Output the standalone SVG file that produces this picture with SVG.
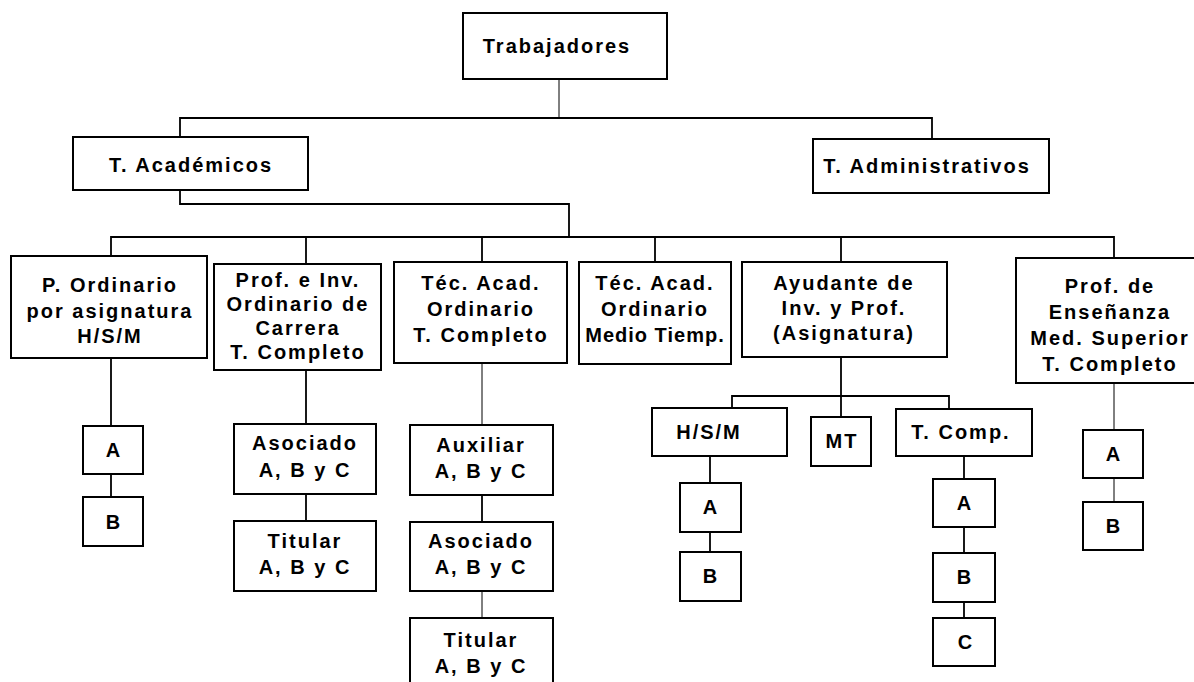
<svg xmlns="http://www.w3.org/2000/svg" width="1194" height="682" viewBox="0 0 1194 682">
<style>
  .box { fill: #fff; stroke: #000; stroke-width: 2; }
  .t { font-family: "Liberation Sans", Arial, sans-serif; font-weight: bold; font-size: 20px; letter-spacing: 2px; fill: #000; text-anchor: middle; }
  .c { fill: none; stroke: #000; stroke-width: 1.8; }
  .thin { stroke-width: 1; }
</style>
<rect width="1194" height="682" fill="#fff"/>
<g id="connectors">
  <path class="c thin" d="M559 79 V118"/>
  <path class="c" d="M180 137 V118 H932 V139"/>
  <path class="c" d="M180 190 V204 H569 V237"/>
  <path class="c" d="M111 256 V237 H1114 V258"/>
  <path class="c" d="M306 237 V264"/>
  <path class="c" d="M482 237 V262"/>
  <path class="c" d="M655 237 V262"/>
  <path class="c" d="M841 237 V262"/>
  <path class="c" d="M111 358 V426"/>
  <path class="c" d="M111 474 V497"/>
  <path class="c" d="M306 370 V424"/>
  <path class="c" d="M306 494 V521"/>
  <path class="c thin" d="M482 363 V425"/>
  <path class="c" d="M482 495 V522"/>
  <path class="c thin" d="M482 591 V618"/>
  <path class="c" d="M841 357 V417"/>
  <path class="c" d="M732 408 V396 H949 V409"/>
  <path class="c" d="M710 456 V483"/>
  <path class="c" d="M710 532 V552"/>
  <path class="c" d="M964 456 V479"/>
  <path class="c" d="M964 527 V553"/>
  <path class="c" d="M964 602 V618"/>
  <path class="c thin" d="M1114 383 V430"/>
  <path class="c thin" d="M1114 478 V502"/>
</g>
<g id="trabajadores">
  <rect class="box" x="463" y="13" width="204" height="66"/>
  <text class="t" x="557" y="53">Trabajadores</text>
</g>
<g id="t-academicos">
  <rect class="box" x="73" y="137" width="235" height="53"/>
  <text class="t" x="191" y="172">T. Académicos</text>
</g>
<g id="t-administrativos">
  <rect class="box" x="813" y="139" width="236" height="54"/>
  <text class="t" x="927" y="173">T. Administrativos</text>
</g>
<g id="p-ordinario">
  <rect class="box" x="11" y="256" width="196" height="102"/>
  <text class="t"><tspan x="110" y="292">P. Ordinario</tspan><tspan x="110" y="318">por asignatura</tspan><tspan x="110" y="343">H/S/M</tspan></text>
</g>
<g id="prof-inv">
  <rect class="box" x="214" y="264" width="167" height="106"/>
  <text class="t"><tspan x="298" y="287">Prof. e Inv.</tspan><tspan x="298" y="311">Ordinario de</tspan><tspan x="298" y="335">Carrera</tspan><tspan x="298" y="359">T. Completo</tspan></text>
</g>
<g id="tec-acad-tc">
  <rect class="box" x="394" y="262" width="173" height="101"/>
  <text class="t"><tspan x="481" y="290">Téc. Acad.</tspan><tspan x="481" y="316">Ordinario</tspan><tspan x="481" y="342">T. Completo</tspan></text>
</g>
<g id="tec-acad-mt">
  <rect class="box" x="579" y="262" width="152" height="102"/>
  <text class="t"><tspan x="655" y="290">Téc. Acad.</tspan><tspan x="655" y="316">Ordinario</tspan><tspan x="655" y="342" letter-spacing="1">Medio Tiemp.</tspan></text>
</g>
<g id="ayudante">
  <rect class="box" x="742" y="262" width="205" height="95"/>
  <text class="t"><tspan x="844" y="290">Ayudante de</tspan><tspan x="844" y="315">Inv. y Prof.</tspan><tspan x="844" y="340">(Asignatura)</tspan></text>
</g>
<g id="prof-ensenanza">
  <rect class="box" x="1016" y="258" width="192" height="125"/>
  <text class="t"><tspan x="1110" y="293">Prof. de</tspan><tspan x="1110" y="319">Enseñanza</tspan><tspan x="1110" y="345">Med. Superior</tspan><tspan x="1110" y="371">T. Completo</tspan></text>
</g>
<g id="po-a">
  <rect class="box" x="83" y="426" width="60" height="48"/>
  <text class="t" x="114" y="457">A</text>
</g>
<g id="po-b">
  <rect class="box" x="83" y="497" width="60" height="49"/>
  <text class="t" x="114" y="529">B</text>
</g>
<g id="pi-asociado">
  <rect class="box" x="234" y="424" width="142" height="70"/>
  <text class="t"><tspan x="305" y="450">Asociado</tspan><tspan x="305" y="477">A, B y C</tspan></text>
</g>
<g id="pi-titular">
  <rect class="box" x="234" y="521" width="142" height="70"/>
  <text class="t"><tspan x="305" y="548">Titular</tspan><tspan x="305" y="574">A, B y C</tspan></text>
</g>
<g id="ta-auxiliar">
  <rect class="box" x="410" y="425" width="143" height="70"/>
  <text class="t"><tspan x="481" y="452">Auxiliar</tspan><tspan x="481" y="478">A, B y C</tspan></text>
</g>
<g id="ta-asociado">
  <rect class="box" x="410" y="522" width="143" height="69"/>
  <text class="t"><tspan x="481" y="548">Asociado</tspan><tspan x="481" y="574">A, B y C</tspan></text>
</g>
<g id="ta-titular">
  <rect class="box" x="410" y="618" width="143" height="80"/>
  <text class="t"><tspan x="481" y="647">Titular</tspan><tspan x="481" y="673">A, B y C</tspan></text>
</g>
<g id="ay-hsm">
  <rect class="box" x="652" y="408" width="135" height="48"/>
  <text class="t" x="709" y="439">H/S/M</text>
</g>
<g id="ay-mt">
  <rect class="box" x="811" y="417" width="60" height="49"/>
  <text class="t" x="842" y="448" letter-spacing="0">MT</text>
</g>
<g id="ay-tcomp">
  <rect class="box" x="896" y="409" width="136" height="47"/>
  <text class="t" x="961" y="439">T. Comp.</text>
</g>
<g id="hsm-a">
  <rect class="box" x="680" y="483" width="61" height="49"/>
  <text class="t" x="711" y="514">A</text>
</g>
<g id="hsm-b">
  <rect class="box" x="680" y="552" width="61" height="49"/>
  <text class="t" x="711" y="583">B</text>
</g>
<g id="tc-a">
  <rect class="box" x="933" y="479" width="62" height="48"/>
  <text class="t" x="965" y="510">A</text>
</g>
<g id="tc-b">
  <rect class="box" x="933" y="553" width="62" height="49"/>
  <text class="t" x="965" y="584">B</text>
</g>
<g id="tc-c">
  <rect class="box" x="933" y="618" width="62" height="48"/>
  <text class="t" x="966" y="649">C</text>
</g>
<g id="pe-a">
  <rect class="box" x="1083" y="430" width="60" height="48"/>
  <text class="t" x="1114" y="461">A</text>
</g>
<g id="pe-b">
  <rect class="box" x="1083" y="502" width="60" height="48"/>
  <text class="t" x="1114" y="533">B</text>
</g>
</svg>
